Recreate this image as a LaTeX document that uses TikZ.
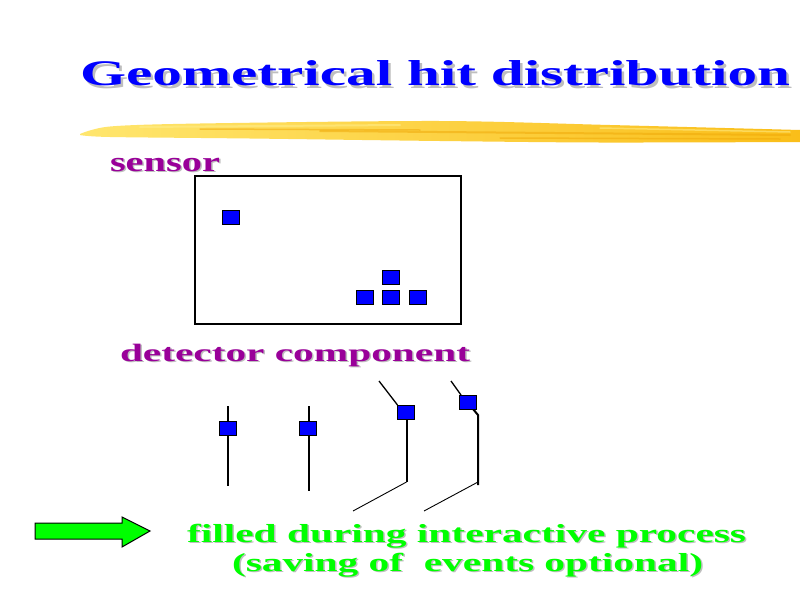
\documentclass[tikz,border=0pt]{standalone}
\usepackage{fontspec}
\setmainfont{Liberation Serif}
\usepackage{graphicx}
\definecolor{titleblue}{RGB}{0,0,255}
\definecolor{lblpurple}{RGB}{153,0,153}
\definecolor{brightgreen}{RGB}{0,255,0}
\definecolor{shadowgray}{RGB}{190,190,190}
\definecolor{hitblue}{RGB}{0,0,255}
\definecolor{brushA}{RGB}{255,230,110}
\definecolor{brushB}{RGB}{250,190,25}
\definecolor{brushDark}{RGB}{240,170,10}
\definecolor{brushLight}{RGB}{255,238,140}
\tikzset{
  txt/.style={inner sep=0pt, outer sep=0pt, anchor=base west, font=\bfseries},
  hit/.style={draw=black, line width=0.9pt, fill=hitblue, minimum width=17pt, minimum height=14pt, inner sep=0pt},
  wire/.style={line width=2pt, line cap=butt},
  thinwire/.style={line width=0.9pt},
  frame/.style={draw=black, line width=1.2pt, inner sep=0pt, outer sep=0pt},
  streak/.style={line width=2pt, line cap=round, opacity=0.55}
}
\newcommand\wtxt[2]{\resizebox{#1pt}{\height}{#2}}
\begin{document}
\begin{tikzpicture}[x=1pt,y=-1pt]
\useasboundingbox (0,0) rectangle (800,600);
\fill[white] (0,0) rectangle (800,600);
% title
\node[txt, text=shadowgray, font=\fontsize{36}{36}\selectfont\bfseries] at (82.5,88) {\wtxt{710}{Geometrical hit distribution}};
\node[txt, text=titleblue, font=\fontsize{36}{36}\selectfont\bfseries] (title) at (80,85.5) {\wtxt{710}{Geometrical hit distribution}};
% brush stroke
\path[left color=brushA, right color=brushB] plot[smooth] coordinates {(80,134) (110,126.5) (200,123.5) (440,121) (610,125) (800,130)}
  -- plot[smooth] coordinates {(800,142) (600,142.5) (440,141) (250,138.5) (110,137) (80,135)} -- cycle;
\draw[streak, brushDark] (320,131) -- (790,135);
\draw[streak, brushDark, line width=1.5pt] (200,129) -- (420,130);
\draw[streak, brushLight] (140,127) -- (400,125);
\draw[streak, brushDark, line width=1.5pt] (500,138) -- (780,139);
\draw[streak, brushLight, line width=1.5pt] (600,128) -- (790,132);
% sensor label
\node[txt, text=shadowgray, font=\fontsize{28}{28}\selectfont\bfseries] at (111.5,172.5) {\wtxt{110}{sensor}};
\node[txt, text=lblpurple, font=\fontsize{28}{28}\selectfont\bfseries] (sensorlbl) at (110,171) {\wtxt{110}{sensor}};
% sensor frame
\node[frame, minimum width=266pt, minimum height=148pt, anchor=north west] (sensor) at (195,176) {};
\node[hit] (h1) at (230.5,217) {};
\node[hit] (h2) at (391,277) {};
\node[hit] (h3) at (364.5,297) {};
\node[hit] (h4) at (391,297) {};
\node[hit] (h5) at (418,297) {};
% detector component label
\node[txt, text=shadowgray, font=\fontsize{25}{25}\selectfont\bfseries] at (121.5,362.5) {\wtxt{350}{detector component}};
\node[txt, text=lblpurple, font=\fontsize{25}{25}\selectfont\bfseries] (detlbl) at (120,361) {\wtxt{350}{detector component}};
% detector elements
\coordinate (a1) at (227.5,406); \coordinate (a2) at (227.5,486);
\coordinate (b1) at (308.5,406); \coordinate (b2) at (308.5,491);
\coordinate (c0) at (379,381); \coordinate (c2) at (406.5,482); \coordinate (c3) at (353,511);
\coordinate (d0) at (451,381); \coordinate (d1) at (473,409); \coordinate (d2) at (478,415);
\coordinate (d3) at (478,485); \coordinate (d4) at (424,511);
\draw[wire] (a1) -- (a2);
\draw[wire] (b1) -- (b2);
\node[hit] (s1) at (227.5,428) {};
\node[hit] (s2) at (308,428) {};
\draw[thinwire, line width=1.3pt] (c0) -- (397.5,405);
\draw[wire] (406.5,420) -- (c2);
\draw[thinwire] (c2) -- (c3);
\node[hit] (s3) at (405.5,412.5) {};
\draw[thinwire, line width=1.3pt] (d0) -- (461,395);
\draw[wire] (d1) -- (d2) -- (d3);
\draw[thinwire] (478,482) -- (d4);
\node[hit] (s4) at (468,402) {};
% green arrow
\draw[fill=brightgreen, draw=black, line width=1pt] (35,523) -- (122,523) -- (122,517) -- (150,531)
  -- (122,547) -- (122,539) -- (35,539) -- cycle;
\coordinate (arrowtip) at (150,531);
% green text
\node[txt, text=shadowgray, font=\fontsize{26}{26}\selectfont\bfseries] at (188.5,543.5) {\wtxt{559}{filled during interactive process}};
\node[txt, text=brightgreen, font=\fontsize{26}{26}\selectfont\bfseries] (g1) at (187,542) {\wtxt{559}{filled during interactive process}};
\node[txt, text=shadowgray, font=\fontsize{26}{26}\selectfont\bfseries] at (233.5,572.5) {\wtxt{471}{(saving of\ \ events optional)}};
\node[txt, text=brightgreen, font=\fontsize{26}{26}\selectfont\bfseries] (g2) at (232,571) {\wtxt{471}{(saving of\ \ events optional)}};
\end{tikzpicture}
\end{document}
